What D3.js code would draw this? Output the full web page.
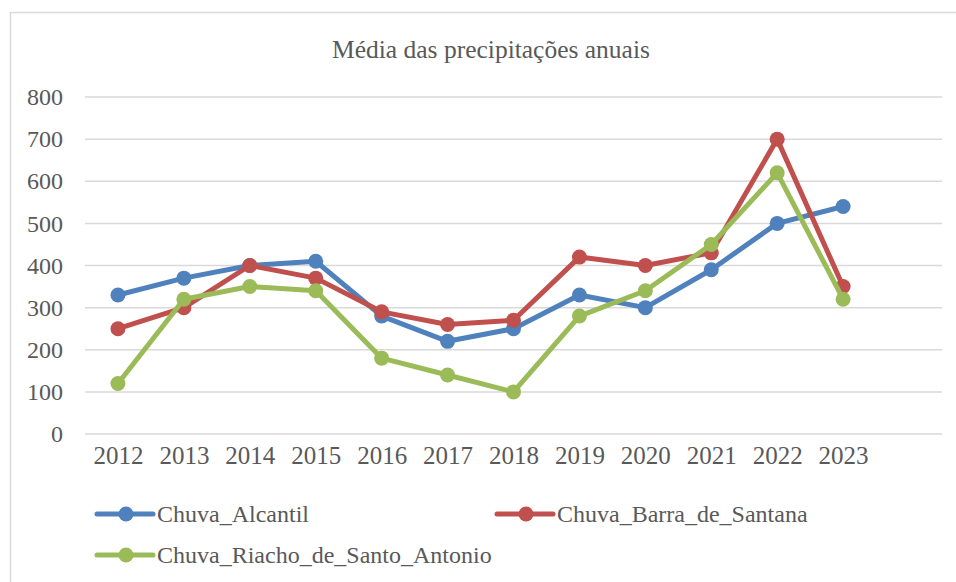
<!DOCTYPE html>
<html>
<head>
<meta charset="utf-8">
<script src="https://cdn.jsdelivr.net/npm/d3@7"></script>
<style>
  body { margin: 0; background: #fff; }
  svg text { font-family: 'Liberation Serif', 'Tinos', 'Times New Roman', 'DejaVu Serif', serif !important; }
</style>
</head>
<body>
<div id="chart"></div>
<script>
var years = ['2012', '2013', '2014', '2015', '2016', '2017', '2018', '2019', '2020', '2021', '2022', '2023'];
var yTicks = [0, 100, 200, 300, 400, 500, 600, 700, 800];

var alcantil = [330, 370, 400, 410, 280, 220, 250, 330, 300, 390, 500, 540];
var barra = [250, 300, 400, 370, 290, 260, 270, 420, 400, 430, 700, 350];
var riacho = [120, 320, 350, 340, 180, 140, 100, 280, 340, 450, 620, 320];

var seriesNames = ['Chuva_Alcantil', 'Chuva_Barra_de_Santana', 'Chuva_Riacho_de_Santo_Antonio'];
var colors = ['#4F81BD', '#C0504D', '#9BBB59'];

var series = [alcantil, barra, riacho].map(function(v, i) {
    return { name: seriesNames[i], color: colors[i], values: v };
});

var W = 956, H = 582;
var m = {l: 85, r: 942, t: 97, b: 434};
// 13 category slots, last one left empty like the original
var slot = (m.r - m.l) / 13;

var x = d3.scalePoint()
    .domain(years)
    .range([m.l + slot / 2, m.l + slot * 11.5]);

var y = d3.scaleLinear()
    .domain([0, 800])
    .range([m.b, m.t]);

var svg = d3.select("#chart")
    .append("svg")
    .attr("width", W)
    .attr("height", H);

// chart area border
svg.append("rect")
    .attr("x", 10.5)
    .attr("y", 12.5)
    .attr("width", 960)
    .attr("height", 600)
    .attr("fill", "none")
    .attr("stroke", "#d9d9d9")
    .attr("stroke-width", 1.5);

svg.append("text")
    .attr("x", 491)
    .attr("y", 58)
    .attr("text-anchor", "middle")
    .attr("fill", "#595959")
    .attr("font-size", "25.5px")
    .text("Média das precipitações anuais");

// gridlines
svg.append("g")
    .selectAll("line")
    .data(yTicks)
    .enter()
    .append("line")
    .attr("x1", m.l)
    .attr("x2", m.r)
    .attr("y1", d => y(d))
    .attr("y2", d => y(d))
    .attr("stroke", "#d9d9d9")
    .attr("stroke-width", 1.5);

// y axis labels
var yAxis = svg.append("g")
    .attr("transform", "translate(" + (m.l - 22) + ",0)")
    .call(d3.axisLeft(y).tickValues(yTicks).tickSize(0).tickPadding(0));
yAxis.select(".domain").remove();
yAxis.selectAll("text")
    .attr("fill", "#595959")
    .attr("font-size", "24px");

// x axis labels
var xAxis = svg.append("g")
    .attr("transform", "translate(0," + (m.b + 12) + ")")
    .call(d3.axisBottom(x).tickSize(0).tickPadding(0));
xAxis.select(".domain").remove();
xAxis.selectAll("text")
    .attr("fill", "#595959")
    .attr("font-size", "25px");

var line = d3.line()
    .x((d, i) => x(years[i]))
    .y(d => y(d));

var g = svg.append("g");
series.forEach(s => {
    g.append("path")
        .attr("d", line(s.values))
        .attr("fill", "none")
        .attr("stroke", s.color)
        .attr("stroke-width", 5)
        .attr("stroke-linejoin", "round")
        .attr("stroke-linecap", "round");
    g.selectAll(null)
        .data(s.values)
        .enter()
        .append("circle")
        .attr("cx", (d, i) => x(years[i]))
        .attr("cy", d => y(d))
        .attr("r", 7.5)
        .attr("fill", s.color);
});

// legend
var legendPos = [[97, 514], [497, 514], [97, 555]];
series.forEach((s, i) => {
    var lg = svg.append("g")
        .attr("transform", "translate(" + legendPos[i][0] + "," + legendPos[i][1] + ")");
    lg.append("line")
        .attr("x1", 0)
        .attr("x2", 56)
        .attr("stroke", s.color)
        .attr("stroke-width", 5)
        .attr("stroke-linecap", "round");
    lg.append("circle")
        .attr("cx", 29)
        .attr("r", 7.5)
        .attr("fill", s.color);
    lg.append("text")
        .attr("x", 60)
        .attr("y", 8)
        .attr("fill", "#595959")
        .attr("font-size", "24px")
        .text(s.name);
});
</script>
</body>
</html>
